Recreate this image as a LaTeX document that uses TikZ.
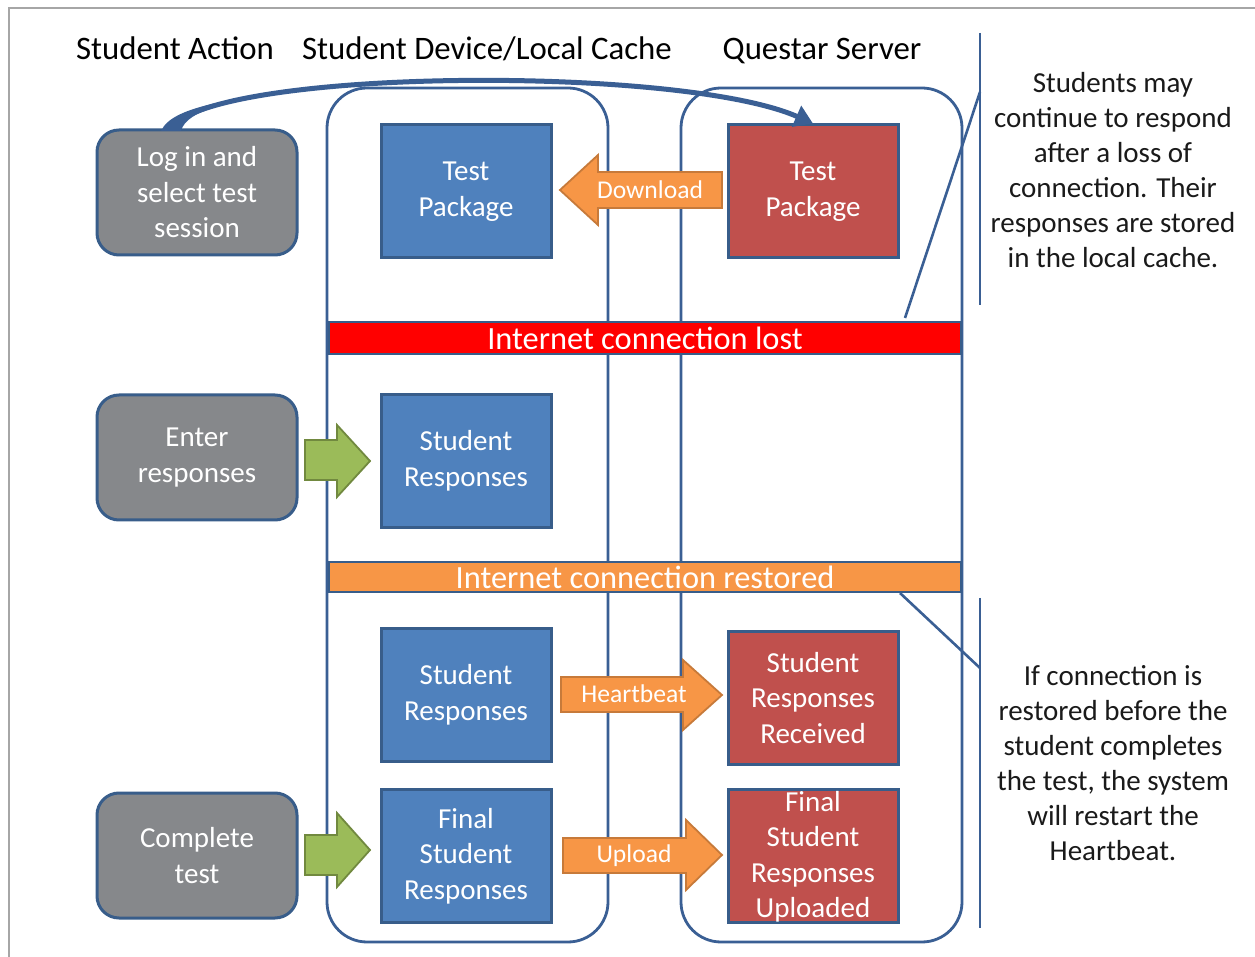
\documentclass[tikz,border=0pt]{standalone}
\usepackage{fontspec}
\setmainfont{Carlito}
\usetikzlibrary{arrows.meta}
\definecolor{boxline}{HTML}{385D8A}
\definecolor{colline}{HTML}{3A5F94}
\definecolor{bluefill}{HTML}{4F81BD}
\definecolor{redfill}{HTML}{C0504D}
\definecolor{grayfill}{HTML}{86888B}
\definecolor{orangefill}{HTML}{F79646}
\definecolor{orangeline}{HTML}{C77A3A}
\definecolor{greenfill}{HTML}{9BBB59}
\definecolor{greenline}{HTML}{71893F}
\definecolor{framegray}{HTML}{A6A6A6}
\definecolor{calltext}{HTML}{1A1A1A}
\definecolor{bandred}{HTML}{FF0000}
\begin{document}
\begin{tikzpicture}[x=0.5pt,y=-0.5pt,
  boxtxt/.style={text=white, align=center, font=\fontsize{14.5}{17.75}\selectfont},
  bluebox/.style={boxtxt, draw=boxline, line width=1.5pt, fill=bluefill, minimum width=85pt, minimum height=66.5pt, inner sep=0pt},
  redbox/.style={bluebox, fill=redfill},
  graybox/.style={boxtxt, draw=boxline, line width=1.5pt, fill=grayfill, rounded corners=11pt, minimum width=100pt, minimum height=62.5pt, inner sep=0pt},
  column/.style={draw=colline, line width=1.4pt, rounded corners=20pt},
  band/.style={draw=boxline, line width=1.2pt, minimum width=316pt, inner sep=0pt, text=white, font=\fontsize{16.2}{18}\selectfont},
  head/.style={font=\fontsize{16.4}{19}\selectfont, inner sep=0pt, anchor=base},
  oarrow/.style={fill=orangefill, draw=orangeline, line width=0.9pt, line join=miter},
  garrow/.style={fill=greenfill, draw=greenline, line width=0.9pt, line join=miter},
  arrtxt/.style={text=white, font=\fontsize{12.8}{15}\selectfont, inner sep=0pt},
  calltxt/.style={text=calltext, align=center, font=\fontsize{14.5}{17.5}\selectfont, inner sep=0pt},
  callline/.style={draw=colline, line width=1.3pt},
  flow/.style={draw=colline, line width=2.5pt, -{Triangle[length=9pt,width=11pt]}}
]
\useasboundingbox (0,0) rectangle (1255,957);
\fill[white] (0,0) rectangle (1255,957);
\draw[framegray, line width=0.6pt] (9,957) -- (9,8) -- (1255,8);

% headers
\node[head] (h1) at (175,60) {Student Action};
\node[head] (h2) at (487,60) {Student Device/Local Cache};
\node[head] (h3) at (822,60) {Questar Server};

% columns
\draw[column] (327,88) rectangle (608,942);
\draw[column] (681,88) rectangle (962,942);

% bands
\node[band, fill=bandred, minimum height=16pt] (lost) at (645,338) {Internet connection lost};
\node[band, fill=orangefill, minimum height=15pt] (restored) at (645,577) {Internet connection restored};

% student actions
\node[graybox] (login) at (197,192.5) {Log in and\\select test\\session};
\node[graybox] (enter) at (197,457.5) {Enter\\responses};
\node[graybox] (complete) at (197,855.5) {Complete\\test};

% device boxes
\node[bluebox] (tp) at (466,191.5) {Test\\Package};
\node[bluebox] (sr) at (466,461) {Student\\Responses};
\node[bluebox] (sr2) at (466,695) {Student\\Responses};
\node[bluebox] (fsr) at (466,856) {Final\\Student\\Responses};

% server boxes
\node[redbox] (tps) at (813,191.5) {Test\\Package};
\node[redbox] (srr) at (813,698) {Student\\Responses\\Received};
\node[redbox] (fsru) at (813,856) {};
\node[boxtxt, inner sep=0pt] (fsrutxt) at (813,857) {Final\\Student\\Responses\\Uploaded};

% orange block arrows
\draw[oarrow] (722,172) -- (598,172) -- (598,155) -- (560,190) -- (598,225) -- (598,208) -- (722,208) -- cycle;
\node[arrtxt] (dl) at (650,190) {Download};
\draw[oarrow] (561,677) -- (683,677) -- (683,660) -- (722,695) -- (683,730) -- (683,712) -- (561,712) -- cycle;
\node[arrtxt] (hb) at (634,694) {Heartbeat};
\draw[oarrow] (563,838) -- (686,838) -- (686,820) -- (722,855) -- (686,890) -- (686,873) -- (563,873) -- cycle;
\node[arrtxt] (ul) at (634,856) {Upload};

% green block arrows
\draw[garrow] (305,440) -- (337,440) -- (337,425) -- (370,461) -- (337,497) -- (337,480) -- (305,480) -- cycle;
\draw[garrow] (305,835) -- (337,835) -- (337,813) -- (370,850) -- (337,887) -- (337,875) -- (305,875) -- cycle;

% curved flow arrow (with flared base)
\fill[colline] (161,131) .. controls (167,118) and (185,110) .. (216,103) -- (216,107) .. controls (196,113) and (184,120) .. (181,131) -- cycle;
\draw[flow] ([xshift=-13.5pt]login.north) .. controls (215,68) and (680,65) .. (tps.north);

% callouts
\coordinate (c1top) at (980,33);
\coordinate (c1bot) at (980,305);
\coordinate (c1j) at (980,92);
\coordinate (c1t) at (905,318);
\draw[callline] (c1top) -- (c1bot);
\draw[callline] (c1j) -- (c1t);
\node[calltxt] (note1) at (1113,170.5) {Students may\\continue to respond\\after a loss of\\connection. Their\\responses are stored\\in the local cache.};

\coordinate (c2top) at (980,598);
\coordinate (c2bot) at (980,928);
\coordinate (c2j) at (980,668);
\coordinate (c2t) at (900,593);
\draw[callline] (c2top) -- (c2bot);
\draw[callline] (c2j) -- (c2t);
\node[calltxt] (note2) at (1113,763) {If connection is\\restored before the\\student completes\\the test, the system\\will restart the\\Heartbeat.};
\end{tikzpicture}
\end{document}
